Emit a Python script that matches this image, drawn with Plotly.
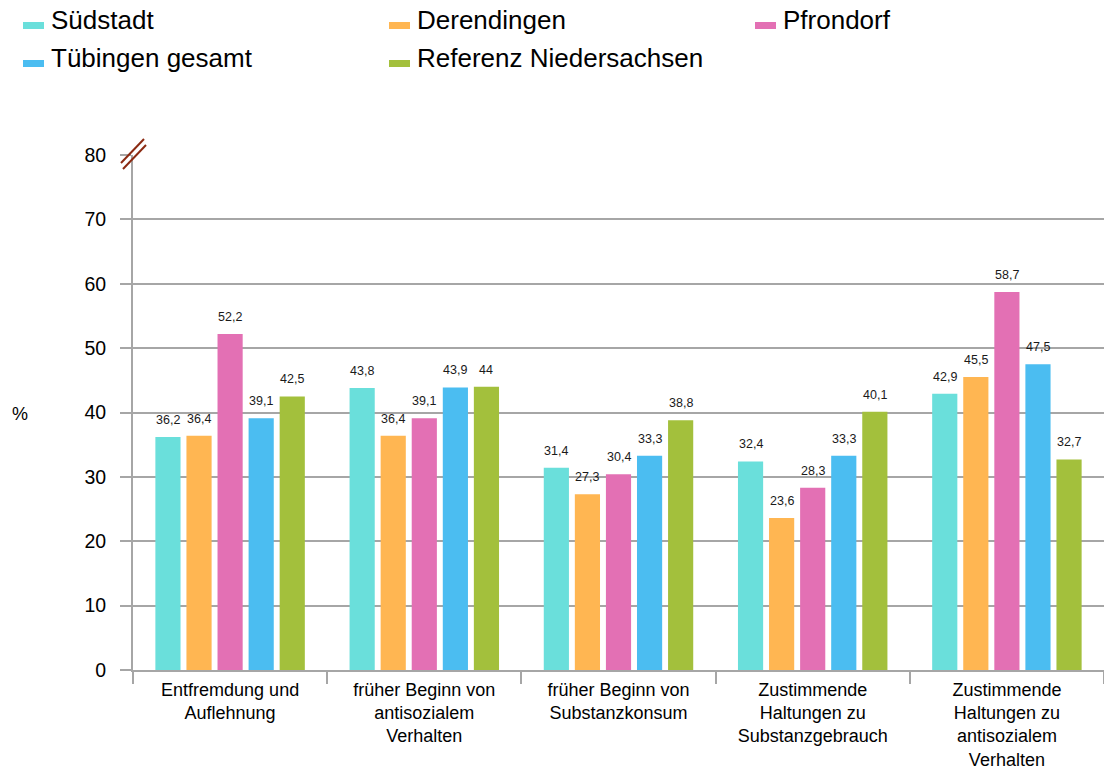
import plotly.graph_objects as go

# Kategorien (Risikofaktoren, Bereich Individuum)
categories = [
    "Entfremdung und<br>Auflehnung",
    "früher Beginn von<br>antisozialem<br>Verhalten",
    "früher Beginn von<br>Substanzkonsum",
    "Zustimmende<br>Haltungen zu<br>Substanzgebrauch",
    "Zustimmende<br>Haltungen zu<br>antisozialem<br>Verhalten",
]

# Anteile in Prozent je Gebiet
suedstadt = [36.2, 43.8, 31.4, 32.4, 42.9]
derendingen = [36.4, 36.4, 27.3, 23.6, 45.5]
pfrondorf = [52.2, 39.1, 30.4, 28.3, 58.7]
tuebingen_gesamt = [39.1, 43.9, 33.3, 33.3, 47.5]
referenz_niedersachsen = [42.5, 44.0, 38.8, 40.1, 32.7]

series_names = ["Südstadt", "Derendingen", "Pfrondorf", "Tübingen gesamt", "Referenz Niedersachsen"]
series_values = [suedstadt, derendingen, pfrondorf, tuebingen_gesamt, referenz_niedersachsen]
series_colors = ["#6ADFDB", "#FFB652", "#E370B4", "#4BBDF1", "#A3C03C"]

y_ticks = [0, 10, 20, 30, 40, 50, 60, 70, 80]

W, H = 1104, 769
M_L, M_R, M_T, M_B = 133, 0, 155, 99
BARGAP, BARGROUPGAP = 0.2, 0.19
FONT = "Liberation Sans, Arial, sans-serif"
GRID = "#a6a6a6"

fig = go.Figure()
for name, vals, col in zip(series_names, series_values, series_colors):
    fig.add_trace(go.Bar(name=name, x=categories, y=vals, marker_color=col,
                         marker_line_width=0, showlegend=False))

# Wertbeschriftungen über den Balken
plot_w = W - M_L - M_R
slot = plot_w / len(categories)
pitch = slot * (1 - BARGAP) / len(series_names)
n = len(series_names)
for i, vals in enumerate(series_values):
    dx = (i - (n - 1) / 2) * pitch
    for cat, v in zip(categories, vals):
        txt = f"{v:g}".replace(".", ",")
        fig.add_annotation(x=cat, y=v, text=txt, showarrow=False, xshift=dx,
                           yshift=17, yanchor="middle",
                           font=dict(family=FONT, size=12.5, color="#1a1a1a"))

# Legende: drei Spalten, zwei Zeilen
plot_h = H - M_T - M_B
def py(p):
    return (H - M_B - p) / plot_h
def px(p):
    return (p - M_L) / plot_w

legend_pos = [(23, 0), (389, 0), (755, 0), (23, 1), (389, 1)]
row_base = [29, 67]
for name, col, (lx, row) in zip(series_names, series_colors, legend_pos):
    b = row_base[row]
    fig.add_shape(type="rect", xref="paper", yref="paper",
                  x0=px(lx), x1=px(lx + 21), y0=py(b), y1=py(b - 7),
                  fillcolor=col, line_width=0)
    fig.add_annotation(xref="paper", yref="paper", x=px(lx + 26), y=py(b - 9.5),
                       text=name, showarrow=False, xanchor="left", yanchor="middle",
                       font=dict(family=FONT, size=26, color="#000000"))

# Achsenbruch-Markierung oben an der y-Achse
for (x0, y0, x1, y1) in [(-12, -8, 11, 16), (-10, -14, 13, 10)]:
    fig.add_shape(type="line", xref="paper", xsizemode="pixel", xanchor=0,
                  yref="paper", ysizemode="pixel", yanchor=1,
                  x0=x0, x1=x1, y0=y0, y1=y1,
                  line=dict(color="#8B2A12", width=2))

fig.add_annotation(xref="paper", yref="paper", x=px(20), y=py(414), text="%",
                   showarrow=False, xanchor="center", yanchor="middle",
                   font=dict(family=FONT, size=18, color="#000000"))

fig.update_layout(
    width=W, height=H,
    margin=dict(l=M_L, r=M_R, t=M_T, b=M_B, pad=0),
    paper_bgcolor="white", plot_bgcolor="white",
    barmode="group", bargap=BARGAP, bargroupgap=BARGROUPGAP,
    separators=",.",
    font=dict(family=FONT, color="#000000"),
    showlegend=False,
)
fig.update_xaxes(
    showline=True, linecolor=GRID, linewidth=2,
    ticks="outside", tickson="boundaries", ticklen=12, tickcolor=GRID, tickwidth=2,
    tickfont=dict(family=FONT, size=18, color="#000000"),
    showgrid=False, ticklabelstandoff=2,
)
fig.update_yaxes(
    range=[0, 80], tickvals=y_ticks,
    showline=True, linecolor=GRID, linewidth=2,
    showgrid=True, gridcolor=GRID, gridwidth=2,
    zeroline=False,
    ticks="outside", ticklen=11, tickcolor=GRID, tickwidth=2,
    tickfont=dict(family=FONT, size=19.5, color="#000000"),
    ticklabelstandoff=10,
)

fig.write_html("out.html")
